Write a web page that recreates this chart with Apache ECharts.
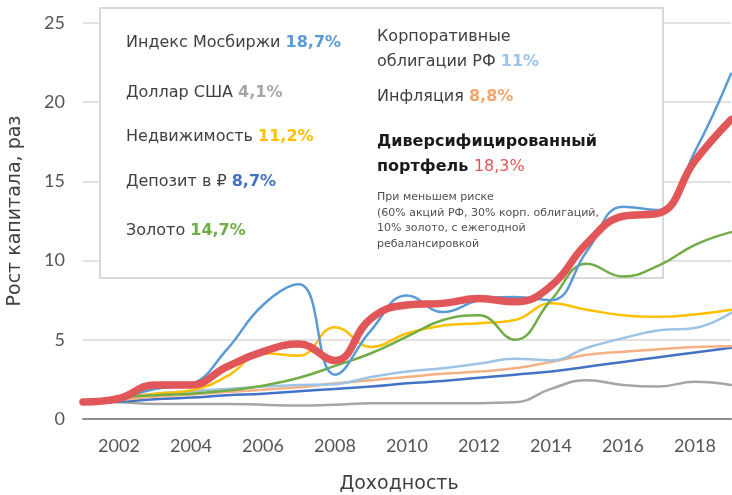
<!DOCTYPE html>
<html>
<head>
<meta charset="utf-8">
<script src="https://cdn.jsdelivr.net/npm/echarts@6/dist/echarts.min.js"></script>
<style>
    html, body { margin: 0; padding: 0; background: #fff; }
    #container { width: 732px; height: 495px; }
</style>
</head>
<body>
<div id="container"></div>
<script>
// годы
var years = [2001, 2002, 2003, 2004, 2005, 2006, 2007, 2008, 2009, 2010, 2011, 2012, 2013, 2014, 2015, 2016, 2017, 2018, 2019];
// значения серий (рост капитала, раз)
var moex =      [1.0, 1.3, 1.9, 2.2, 4.4, 7.2, 8.5, 2.8, 5.6, 7.8, 6.75, 7.5, 7.7, 7.5, 10.6, 13.4, 13.2, 16.9, 21.8];
var usd =       [1.0, 1.05, 0.95, 0.95, 0.95, 0.9, 0.85, 0.9, 1.0, 1.0, 1.0, 1.0, 1.05, 1.9, 2.45, 2.15, 2.05, 2.35, 2.15];
var realty =    [1.0, 1.3, 1.6, 1.8, 2.7, 4.15, 4.0, 5.8, 4.55, 5.4, 5.9, 6.05, 6.25, 7.3, 6.9, 6.55, 6.45, 6.6, 6.9];
var deposit =   [1.0, 1.1, 1.25, 1.35, 1.5, 1.6, 1.75, 1.9, 2.05, 2.25, 2.4, 2.6, 2.8, 3.0, 3.3, 3.6, 3.9, 4.2, 4.5];
var gold =      [1.0, 1.35, 1.5, 1.6, 1.8, 2.1, 2.6, 3.35, 4.15, 5.2, 6.25, 6.55, 5.0, 7.5, 9.8, 9.0, 9.7, 11.0, 11.8];
var corp =      [1.0, 1.3, 1.6, 1.75, 1.9, 2.05, 2.15, 2.2, 2.65, 3.0, 3.2, 3.5, 3.8, 3.7, 4.5, 5.1, 5.6, 5.75, 6.7];
var inflation = [1.0, 1.2, 1.4, 1.55, 1.7, 1.85, 2.0, 2.25, 2.45, 2.65, 2.85, 3.0, 3.2, 3.6, 4.05, 4.25, 4.4, 4.55, 4.6];
var portfolio = [1.07, 1.3, 2.15, 2.15, 3.3, 4.25, 4.73, 3.7, 6.35, 7.2, 7.3, 7.6, 7.4, 8.4, 11.1, 12.8, 13.0, 16.3, 18.9];

var yTicks = [0, 5, 10, 15, 20, 25];

function pairs(arr) {
    var out = [];
    for (var i = 0; i < years.length; i++) {
        out.push([years[i], arr[i]]);
    }
    return out;
}

function lineSerie(name, arr, color, width, z) {
    return {
        name: name,
        type: 'line',
        data: pairs(arr),
        smooth: 0.45,
        symbol: 'none',
        z: z,
        lineStyle: { color: color, width: width, cap: 'round', join: 'round' }
    };
}

var legendFont = 'DejaVu Sans';
var textColor = '#404040';

function legendText(x, y, label, pct, pctColor) {
    return {
        type: 'text',
        x: x,
        y: y,
        z: 1,
        style: {
            text: '{a|' + label + '}{b|' + pct + '}',
            verticalAlign: 'middle',
            rich: {
                a: { fontFamily: legendFont, fontSize: 16, fill: textColor },
                b: { fontFamily: legendFont, fontSize: 16, fontWeight: 'bold', fill: pctColor }
            }
        }
    };
}

function smallText(x, y, txt) {
    return {
        type: 'text',
        x: x,
        y: y,
        z: 1,
        style: {
            text: txt,
            verticalAlign: 'middle',
            fontFamily: legendFont,
            fontSize: 11,
            fill: '#505050'
        }
    };
}

var option = {
    animation: false,
    backgroundColor: '#ffffff',
    grid: {
        left: 83,
        right: 1,
        top: 23,
        bottom: 76,
        containLabel: false,
        outerBoundsMode: 'none'
    },
    xAxis: {
        type: 'value',
        min: 2001,
        max: 2019,
        interval: 1,
        name: 'Доходность',
        nameLocation: 'middle',
        nameGap: 56,
        nameTextStyle: { fontFamily: legendFont, fontSize: 19, color: '#404040', padding: [0, 16, 0, 0] },
        axisLabel: {
            margin: 18,
            fontFamily: 'Lato',
            fontSize: 18,
            color: '#555555',
            formatter: function (v) {
                return v % 2 === 0 ? String(v) : '';
            }
        },
        axisLine: { show: true, lineStyle: { color: '#8c8c8c', width: 2 } },
        axisTick: { show: false },
        splitLine: { show: false }
    },
    yAxis: {
        type: 'value',
        min: yTicks[0],
        max: yTicks[yTicks.length - 1],
        interval: 5,
        name: 'Рост капитала, раз',
        nameLocation: 'middle',
        nameGap: 58,
        nameTextStyle: { fontFamily: legendFont, fontSize: 19, color: '#404040', padding: [0, 0, 0, 20] },
        axisLabel: {
            margin: 18,
            fontFamily: 'Lato',
            fontSize: 18,
            color: '#555555'
        },
        axisLine: { show: false },
        axisTick: { show: false },
        splitLine: { show: true, lineStyle: { color: '#d9d9d9', width: 1.5 } }
    },
    graphic: [
        {
            type: 'rect',
            z: 1,
            shape: { x: 100, y: 8, width: 563, height: 270 },
            style: { fill: '#ffffff', stroke: '#d9d9d9', lineWidth: 2 }
        },
        legendText(126, 43, 'Индекс Мосбиржи ', '18,7%', '#5b9bd5'),
        legendText(126, 93, 'Доллар США ', '4,1%', '#a6a6a6'),
        legendText(126, 137, 'Недвижимость ', '11,2%', '#ffc000'),
        legendText(126, 182, 'Депозит в ₽ ', '8,7%', '#4472c4'),
        legendText(126, 231, 'Золото ', '14,7%', '#70ad47'),
        legendText(377, 37, 'Корпоративные', '', '#9dc3e6'),
        legendText(377, 62, 'облигации РФ ', '11%', '#9dc3e6'),
        legendText(377, 97, 'Инфляция ', '8,8%', '#f4a46e'),
        {
            type: 'text',
            x: 377,
            y: 142,
            z: 1,
            style: {
                text: 'Диверсифицированный',
                verticalAlign: 'middle',
                fontFamily: legendFont,
                fontSize: 16,
                fontWeight: 'bold',
                fill: '#1a1a1a'
            }
        },
        {
            type: 'text',
            x: 377,
            y: 167,
            z: 1,
            style: {
                text: '{a|портфель }{b|18,3%}',
                verticalAlign: 'middle',
                rich: {
                    a: { fontFamily: legendFont, fontSize: 16, fontWeight: 'bold', fill: '#1a1a1a' },
                    b: { fontFamily: legendFont, fontSize: 16, fill: '#e05555' }
                }
            }
        },
        smallText(377, 197, 'При меньшем риске'),
        smallText(377, 213, '(60% акций РФ, 30% корп. облигаций,'),
        smallText(377, 228, '10% золото, с ежегодной'),
        smallText(377, 244, 'ребалансировкой')
    ],
    series: [
        lineSerie('Доллар США', usd, '#a5a5a5', 2.5, 2),
        lineSerie('Депозит в ₽', deposit, '#4472c4', 2.5, 3),
        lineSerie('Инфляция', inflation, '#f4b183', 2.5, 4),
        lineSerie('Корпоративные облигации РФ', corp, '#9dc3e6', 2.5, 5),
        lineSerie('Недвижимость', realty, '#ffc000', 2.5, 6),
        lineSerie('Золото', gold, '#70ad47', 2.5, 7),
        lineSerie('Индекс Мосбиржи', moex, '#5b9bd5', 2.5, 8),
        lineSerie('Диверсифицированный портфель', portfolio, '#e15759', 7.5, 9)
    ]
};

var container = echarts.init(document.getElementById('container'));
container.setOption(option);
</script>
</body>
</html>
